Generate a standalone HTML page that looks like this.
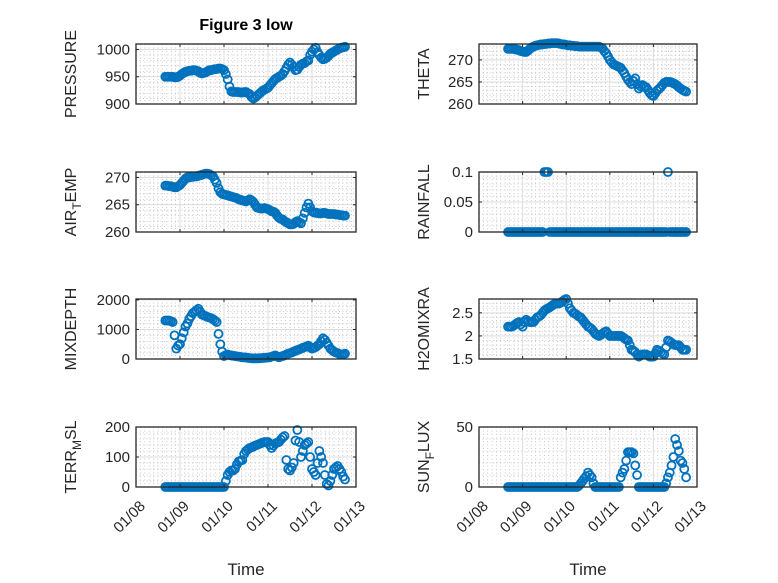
<!DOCTYPE html>
<html><head><meta charset="utf-8"><style>
body{margin:0;background:#fff}
svg{display:block;font-family:"Liberation Sans",sans-serif}
</style></head><body>
<svg id="fig" width="778" height="583" viewBox="0 0 778 583">
<text x="246" y="30" text-anchor="middle" font-weight="bold" font-size="16" fill="#000">Figure 3 low</text>
</svg>
<script>
const hours = [16,17,18,19,20,21,22,23,24,25,26,27,28,29,30,31,32,33,34,35,36,37,38,39,40,41,42,43,44,45,46,47,48,49,50,51,52,53,54,55,56,57,58,59,60,61,62,63,64,65,66,67,68,69,70,71,72,73,74,75,76,77,78,79,80,81,82,83,84,85,86,87,88,89,90,91,92,93,94,95,96,97,98,99,100,101,102,103,104,105,106,107,108,109,110,111,112,113,114];
const xTickLabels = ["01/08","01/09","01/10","01/11","01/12","01/13"];
const pressure = [950,950,950,950,950,949,949,950,952,955,957,959,960,961,961,962,962,961,960,957,956,957,958,960,962,962,963,964,964,965,965,964,962,955,945,932,923,922,922,922,922,921,921,922,922,920,918,913,910,912,915,918,921,924,926,928,930,934,938,942,946,948,950,952,955,960,966,972,976,972,968,962,963,968,972,974,975,978,980,990,996,1000,1003,995,990,985,982,983,985,988,992,994,996,998,1000,1002,1003,1004,1005];
const airTemp = [268.5,268.5,268.4,268.4,268.3,268.2,268.2,268.4,268.6,269,269.4,269.8,270,270,270.1,270.1,270.2,270.2,270.3,270.4,270.5,270.6,270.7,270.7,270.6,270.4,270.2,269.6,269,268,267.3,267,266.9,266.8,266.7,266.6,266.5,266.4,266.3,266.2,266,265.9,265.8,265.7,265.6,265.8,266,265.8,265.5,265,264.5,264.4,264.3,264.3,264.4,264.3,264.2,264,263.8,263.7,263.5,263,262.6,262.4,262.3,262,261.8,261.6,261.4,261.4,261.5,261.8,262,261.8,261.6,262.5,263.5,264.5,265.2,264.5,263.8,263.6,263.5,263.5,263.4,263.4,263.5,263.5,263.4,263.3,263.3,263.3,263.3,263.2,263.2,263.1,263.1,263,263];
const mixDepth = [1300,1300,1300,1280,1250,800,350,450,500,700,900,1100,1200,1350,1450,1550,1600,1650,1700,1600,1500,1480,1450,1420,1400,1380,1350,1300,1250,850,500,250,100,130,150,130,120,110,100,90,80,70,60,55,50,40,30,25,20,20,20,25,30,35,40,45,50,60,80,100,120,80,60,80,100,120,150,180,200,220,250,280,300,320,350,380,400,420,450,400,350,380,400,450,500,600,700,650,550,450,350,300,250,220,200,170,150,160,180];
const terrMsl = [0,0,0,0,0,0,0,0,0,0,0,0,0,0,0,0,0,0,0,0,0,0,0,0,0,0,0,0,0,0,0,0,0,20,40,50,55,55,60,75,85,88,90,110,120,125,130,132,135,138,140,143,145,148,150,150,150,140,130,138,145,148,150,158,165,170,90,60,55,65,80,155,190,150,100,120,140,145,150,100,60,50,40,80,120,100,80,40,10,5,20,40,60,65,70,60,50,35,25];
const theta = [272.5,272.5,272.5,272.5,272.4,272.3,272.2,272,271.9,271.8,271.8,272.1,272.5,272.8,273,273.2,273.3,273.4,273.5,273.5,273.6,273.6,273.7,273.7,273.8,273.8,273.8,273.8,273.7,273.6,273.5,273.5,273.4,273.3,273.3,273.2,273.2,273.1,273.1,273,273,273,273,273,273,273,273,273,273,273,273,272.8,272.6,272,271.5,270.8,270,269.5,269,268.8,268.6,268.4,268.2,267.6,267,266.2,265.5,265,264.5,265.2,265.8,264.5,263.5,264,264.3,264,263.8,263.2,262.5,262,261.8,262.4,263,263.4,263.8,264.3,264.8,265,265,265,264.9,264.7,264.5,264.2,263.8,263.5,263.2,263,262.8];
const rainfall = [0,0,0,0,0,0,0,0,0,0,0,0,0,0,0,0,0,0,0,0,0.1,0.1,0.1,0,0,0,0,0,0,0,0,0,0,0,0,0,0,0,0,0,0,0,0,0,0,0,0,0,0,0,0,0,0,0,0,0,0,0,0,0,0,0,0,0,0,0,0,0,0,0,0,0,0,0,0,0,0,0,0,0,0,0,0,0,0,0,0,0,0.1,0,0,0,0,0,0,0,0,0,0];
const h2o = [2.2,2.2,2.2,2.22,2.25,2.28,2.3,2.25,2.2,2.3,2.35,2.32,2.3,2.3,2.3,2.35,2.4,2.42,2.45,2.5,2.55,2.58,2.6,2.62,2.65,2.68,2.7,2.7,2.7,2.72,2.75,2.78,2.8,2.7,2.6,2.55,2.5,2.48,2.45,2.42,2.4,2.35,2.3,2.25,2.2,2.18,2.15,2.1,2.05,2.02,2.0,2.02,2.05,2.08,2.1,2.05,2.0,2.0,2.0,2.0,2.0,2.0,2.0,1.98,1.95,1.92,1.9,1.8,1.7,1.68,1.65,1.6,1.55,1.58,1.6,1.6,1.6,1.58,1.55,1.55,1.55,1.62,1.7,1.68,1.65,1.62,1.6,1.75,1.9,1.88,1.85,1.82,1.8,1.8,1.8,1.75,1.7,1.7,1.7];
const sunFlux = [0,0,0,0,0,0,0,0,0,0,0,0,0,0,0,0,0,0,0,0,0,0,0,0,0,0,0,0,0,0,0,0,0,0,0,0,0,0,0,1,3,5,7,9,12,10,8,3,0,0,0,0,0,0,0,0,0,0,0,0,0,0,8,12,15,22,29,29,29,28,18,10,0,0,0,0,0,0,0,0,0,0,0,0,0,0,0,3,8,12,18,25,40,35,30,22,20,15,8];

const NS="http://www.w3.org/2000/svg";
const svg=document.getElementById('fig');
function el(tag,attrs,parent){const e=document.createElementNS(NS,tag);for(const k in attrs)e.setAttribute(k,attrs[k]);(parent||svg).appendChild(e);return e;}

const panels=[
 {name:'pressure',label:['PRESSURE'],data:pressure,x0:136,x1:356,y0:44,y1:104,ymin:900,ymax:1010,ticks:[900,950,1000],lx:76,bottom:false},
 {name:'air-temp',label:['AIR','T','EMP'],data:airTemp,x0:136,x1:356,y0:172,y1:232,ymin:260,ymax:271,ticks:[260,265,270],lx:76,bottom:false},
 {name:'mixdepth',label:['MIXDEPTH'],data:mixDepth,x0:136,x1:356,y0:299,y1:359,ymin:0,ymax:2030,ticks:[0,1000,2000],lx:76,bottom:false},
 {name:'terr-msl',label:['TERR','M','SL'],data:terrMsl,x0:136,x1:356,y0:427,y1:487,ymin:0,ymax:200,ticks:[0,100,200],lx:76,bottom:true},
 {name:'theta',label:['THETA'],data:theta,x0:479,x1:697,y0:44,y1:104,ymin:260,ymax:273.6,ticks:[260,265,270],lx:429,bottom:false},
 {name:'rainfall',label:['RAINFALL'],data:rainfall,x0:479,x1:697,y0:172,y1:232,ymin:0,ymax:0.1,ticks:[0,0.05,0.1],lx:429,bottom:false},
 {name:'h2o-mix-ratio',label:['H2OMIXRA'],data:h2o,x0:479,x1:697,y0:299,y1:359,ymin:1.5,ymax:2.8,ticks:[1.5,2,2.5],lx:429,bottom:false},
 {name:'sun-flux',label:['SUN','F','LUX'],data:sunFlux,x0:479,x1:697,y0:427,y1:487,ymin:0,ymax:50,ticks:[0,50],lx:429,bottom:true},
];

panels.forEach(p=>{
 const g=el('g',{});
 
 
 const xs=h=>p.x0+(h/24)*(p.x1-p.x0)/5;
 const ys=v=>p.y1-(v-p.ymin)/(p.ymax-p.ymin)*(p.y1-p.y0);
 for(let i=1;i<50;i++){if(i%10===0)continue;const x=p.x0+i*(p.x1-p.x0)/50;
  el('line',{x1:x,x2:x,y1:p.y0,y2:p.y1,stroke:'#bdbdbd','stroke-width':0.8,'stroke-dasharray':'1 2.5'},g);}
 const step=p.ticks[1]-p.ticks[0], ms=step/5;
 for(let v=p.ymin;v<=p.ymax+1e-9;v+=ms){const y=ys(v);if(y<p.y0||y>p.y1)continue;
  el('line',{x1:p.x0,x2:p.x1,y1:y,y2:y,stroke:'#bdbdbd','stroke-width':0.8,'stroke-dasharray':'1 2.5'},g);}
 for(let i=1;i<5;i++){const x=p.x0+i*(p.x1-p.x0)/5;
  el('line',{x1:x,x2:x,y1:p.y0,y2:p.y1,stroke:'#dcdcdc','stroke-width':1},g);}
 p.ticks.forEach(v=>{const y=ys(v);el('line',{x1:p.x0,x2:p.x1,y1:y,y2:y,stroke:'#dcdcdc','stroke-width':1},g);});
 const dg=el('g',{},g);
 
 
 hours.forEach((h,i)=>{const c=el('circle',{cx:xs(h),cy:ys(p.data[i]),r:4,fill:'none',stroke:'#0072BD','stroke-width':1.8},dg);
  
  });
 el('rect',{x:p.x0,y:p.y0,width:p.x1-p.x0,height:p.y1-p.y0,fill:'none',stroke:'#262626','stroke-width':1.3},g);
 for(let i=0;i<=5;i++){const x=p.x0+i*(p.x1-p.x0)/5;
  el('line',{x1:x,x2:x,y1:p.y1,y2:p.y1-3,stroke:'#262626','stroke-width':1},g);
  el('line',{x1:x,x2:x,y1:p.y0,y2:p.y0+3,stroke:'#262626','stroke-width':1},g);
  if(p.bottom){const ax=x+10, ay=p.y1+20;
   const t=el('text',{x:ax,y:ay,'text-anchor':'end','font-size':15,fill:'#262626',transform:`rotate(-45 ${ax} ${ay})`},g);
   t.textContent=xTickLabels[i];
   
   }
 }
 p.ticks.forEach(v=>{const y=ys(v);
  el('line',{x1:p.x0,x2:p.x0+3,y1:y,y2:y,stroke:'#262626','stroke-width':1},g);
  el('line',{x1:p.x1,x2:p.x1-3,y1:y,y2:y,stroke:'#262626','stroke-width':1},g);
  const t=el('text',{x:p.x0-6,y:y+5,'text-anchor':'end','font-size':15,fill:'#262626'},g);
  t.textContent=String(v);
  
  });
 const cy=(p.y0+p.y1)/2;
 const t=el('text',{x:p.lx,y:cy,'text-anchor':'middle','font-size':16,fill:'#262626',transform:`rotate(-90 ${p.lx} ${cy})`},g);
 
 
 if(p.label.length===1){t.textContent=p.label[0];}
 else{const a=el('tspan',{},t);a.textContent=p.label[0];
  const b=el('tspan',{dy:5,'font-size':12},t);b.textContent=p.label[1];
  const c=el('tspan',{dy:-5},t);c.textContent=p.label[2];}
 if(p.bottom){const xl=el('text',{x:(p.x0+p.x1)/2,y:575,'text-anchor':'middle','font-size':17,fill:'#262626'},g);
  xl.textContent='Time';
  
  }
});
</script>
</body></html>
